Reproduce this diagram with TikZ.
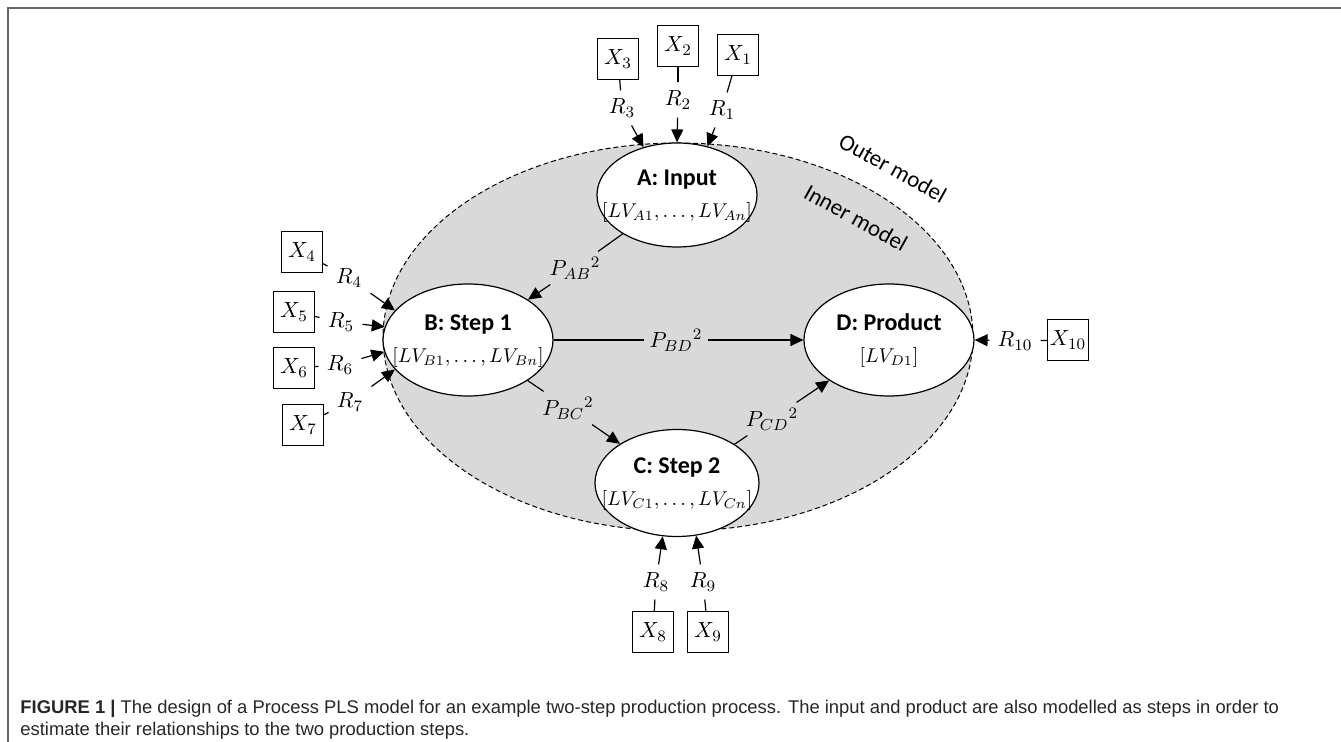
\documentclass[tikz,border=0pt]{standalone}
\usepackage{amsmath}
\usepackage{fontspec}
\setmainfont{Carlito}
\newfontfamily\capfont{Liberation Sans}
\usetikzlibrary{arrows.meta,shapes.geometric}

% two-line text of a step, kept inside the ellipse size
\newcommand{\lvbox}[2]{\makebox[0pt]{\begin{tabular}{@{}c@{}}\textbf{#1}\\{\fontsize{10}{16}\selectfont #2}\end{tabular}}}

\begin{document}
\begin{tikzpicture}[x=0.5pt, y=-0.5pt,
  latent/.style={ellipse, draw, line width=0.6pt, fill=white, inner sep=0pt, font=\fontsize{12}{16}\selectfont},
  outer/.style={ellipse, draw, dash pattern=on 2.5pt off 1.5pt, line width=0.5pt, fill=black!15, minimum width=295pt, minimum height=194pt},
  mv/.style={draw, line width=0.6pt, minimum size=20.5pt, inner sep=0pt, font=\fontsize{11}{13}\selectfont},
  rlab/.style={inner sep=4pt, font=\fontsize{11}{13}\selectfont},
  plab/.style={inner sep=2.5pt, font=\fontsize{11}{13}\selectfont},
  arr/.style={-{Triangle[length=6.5pt,width=6pt]}, line width=0.6pt},
  tick/.style={line width=0.6pt},
  region/.style={font=\fontsize{11.5}{13}\selectfont, rotate=-29, inner sep=0pt},
  capt/.style={inner sep=0pt, anchor=base west, text=black!85, font=\capfont\fontsize{9.2}{11}\selectfont},
  frame/.style={draw=black!60, line width=1pt}]

\useasboundingbox (0,0) rectangle (1341,742);
\draw[frame] (1341,8) -- (8,8) -- (8,742);

% outer / inner model
\node[outer] (om) at (678,337) {};
\node[region] (outerlab) at (893,168) {Outer model};
\node[region] (innerlab) at (856,218) {Inner model};

% steps
\node[latent, minimum width=80pt, minimum height=52pt] (A) at (677,195) {\lvbox{A: Input}{$[LV_{A1}, \dots, LV_{An}]$}};
\node[latent, minimum width=85pt, minimum height=56pt] (B) at (468,340) {\lvbox{B: Step 1}{$[LV_{B1}, \dots, LV_{Bn}]$}};
\node[latent, minimum width=82pt, minimum height=53.5pt] (C) at (677,483) {\lvbox{C: Step 2}{$[LV_{C1}, \dots, LV_{Cn}]$}};
\node[latent, minimum width=85pt, minimum height=56pt] (D) at (889,340) {\lvbox{D: Product}{$[LV_{D1}]$}};

% path coefficients
\node[plab] (pab) at (575,268) {${P_{AB}}^{2}$};
\node[plab] (pbd) at (676,340) {${P_{BD}}^{2}$};
\node[plab] (pbc) at (568,408) {${P_{BC}}^{2}$};
\node[plab] (pcd) at (772,419) {${P_{CD}}^{2}$};
\draw[tick] (A) -- (pab); \draw[arr] (pab) -- (B);
\draw[tick] (B) -- (pbd); \draw[arr] (pbd) -- (D);
\draw[tick] (B) -- (pbc); \draw[arr] (pbc) -- (C);
\draw[tick] (C) -- (pcd); \draw[arr] (pcd) -- (D);

% measured variables
\node[mv] (X1) at (738,55) {$X_1$};
\node[mv] (X2) at (678,46) {$X_2$};
\node[mv] (X3) at (618,59) {$X_3$};
\node[mv] (X4) at (302,252) {$X_4$};
\node[mv] (X5) at (294,312) {$X_5$};
\node[mv] (X6) at (294,368) {$X_6$};
\node[mv] (X7) at (303,425) {$X_7$};
\node[mv] (X8) at (653,632) {$X_8$};
\node[mv] (X9) at (708,632) {$X_9$};
\node[mv] (X10) at (1068,340) {$X_{10}$};

\node[rlab] (R1) at (722,110) {$R_1$};
\node[rlab] (R2) at (678,100) {$R_2$};
\node[rlab] (R3) at (622,108) {$R_3$};
\node[rlab] (R4) at (349,278) {$R_4$};
\node[rlab] (R5) at (341,322) {$R_5$};
\node[rlab] (R6) at (340,365) {$R_6$};
\node[rlab] (R7) at (350,402) {$R_7$};
\node[rlab] (R8) at (656,582) {$R_8$};
\node[rlab] (R9) at (703,582) {$R_9$};
\node[rlab] (R10) at (1015,341) {$R_{10}$};

\draw[tick] (X1) -- (R1); \draw[arr] (R1) -- (A.58);
\draw[tick] (X2) -- (R2); \draw[arr] (R2) -- (A.north);
\draw[tick] (X3) -- (R3); \draw[arr] (R3) -- (A.125);
\draw[tick] (X4) -- (R4); \draw[arr] (R4) -- (B.158);
\draw[tick] (X5) -- (R5); \draw[arr] (R5) -- (B.171);
\draw[tick] (X6) -- (R6); \draw[arr] (R6) -- (B.188);
\draw[tick] (X7) -- (R7); \draw[arr] (R7) -- (B.202);
\draw[tick] (X8) -- (R8); \draw[arr] (R8) -- (C.255);
\draw[tick] (X9) -- (R9); \draw[arr] (R9) -- (C.290);
\draw[tick] (X10) -- (R10); \draw[arr] (R10) -- (D.east);

% caption
\node[capt] (cap1) at (20,714) {\textbf{FIGURE 1 |} The design of a Process PLS model for an example two-step production process. The input and product are also modelled as steps in order to};
\node[capt] (cap2) at (20,736) {estimate their relationships to the two production steps.};
\end{tikzpicture}
\end{document}
